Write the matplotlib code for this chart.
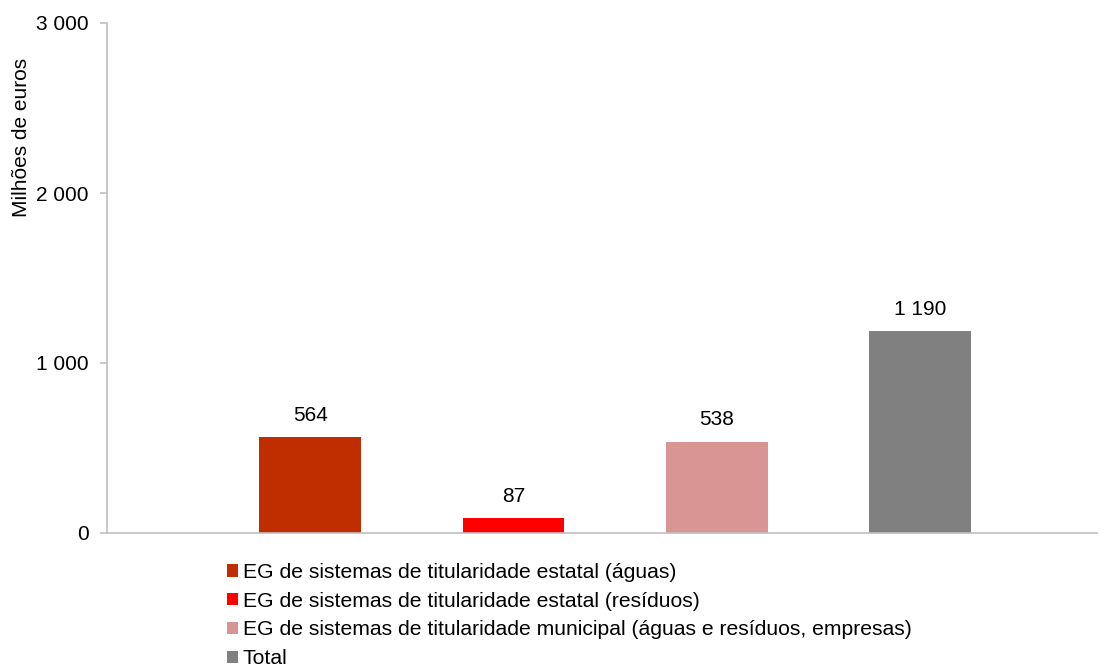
import matplotlib
matplotlib.use("Agg")
import matplotlib.pyplot as plt
from matplotlib.patches import Patch
from matplotlib.ticker import FuncFormatter

plt.rcParams['font.family'] = ['Liberation Sans', 'DejaVu Sans']

categories = [
    "EG de sistemas de titularidade estatal (águas)",
    "EG de sistemas de titularidade estatal (resíduos)",
    "EG de sistemas de titularidade municipal (águas e resíduos, empresas)",
    "Total",
]
values = [564, 87, 538, 1190]
value_labels = ["564", "87", "538", "1 190"]
colors = ["#C02E00", "#FF0000", "#D99594", "#808080"]
yticks = [0, 1000, 2000, 3000]
ylabel = "Milhões de euros"

fig = plt.figure(figsize=(11.1, 6.66), dpi=100)
ax = fig.add_axes([107/1110, 1-533/666, (1097-107)/1110, (533-23)/666])

xpos = [1, 2, 3, 4]
bars = ax.bar(xpos, values, width=0.5, color=colors, zorder=2)
for x, v, lab in zip(xpos, values, value_labels):
    ax.annotate(lab, (x, v), xytext=(0, 8.7), textcoords="offset points",
                ha="center", va="bottom", fontsize=15, color="#000000")

ax.set_xlim(0, 4.87)
ax.set_ylim(0, 3000)
ax.set_yticks(yticks)
ax.yaxis.set_major_formatter(FuncFormatter(lambda v, p: f"{int(v):,}".replace(",", " ")))
ax.set_xticks([])
ax.tick_params(axis='y', length=5, width=1.2, color="#BFBFBF", pad=8, labelsize=15)
for s in ["top", "right"]:
    ax.spines[s].set_visible(False)
for s in ["left", "bottom"]:
    ax.spines[s].set_color("#BFBFBF")
    ax.spines[s].set_linewidth(1.2)
ax.set_ylabel(ylabel, fontsize=15)
ax.yaxis.set_label_coords(-0.077, 0.775)

handles = [Patch(facecolor=c, edgecolor='none') for c in colors]
fig.legend(handles, categories, loc="upper left", bbox_to_anchor=(227/1110, 1-563/666),
           frameon=False, fontsize=15.2, handlelength=0.5, handleheight=0.5,
           handletextpad=0.25, labelspacing=0.46, borderpad=0, borderaxespad=0)

fig.savefig("out.png", dpi=100)
